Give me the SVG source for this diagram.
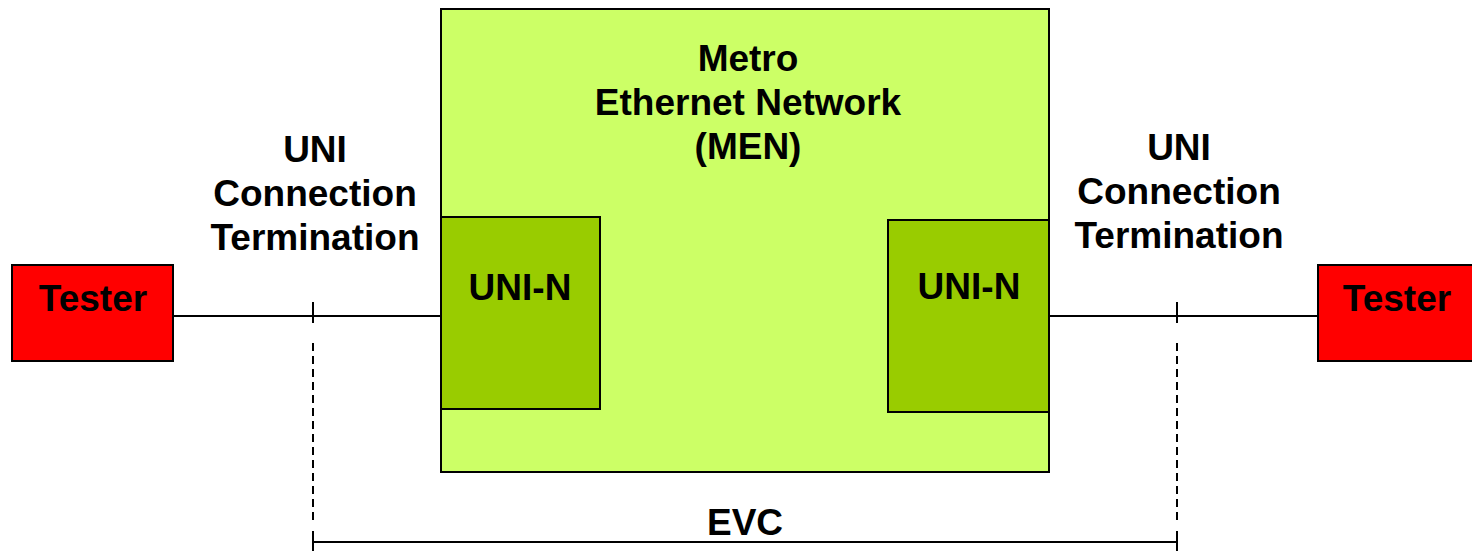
<svg xmlns="http://www.w3.org/2000/svg" width="1472" height="551" viewBox="0 0 1472 551">
<style>
text{font-family:"Liberation Sans",Arial,sans-serif;font-weight:bold;font-size:37px;fill:#000;text-anchor:middle}
.tester{fill:#ff0000;stroke:#000;stroke-width:2}
.men{fill:#ccff66;stroke:#000;stroke-width:2}
.uni{fill:#99cc00;stroke:#000;stroke-width:2}
.ln{stroke:#000;stroke-width:2;fill:none}
.dash{stroke:#000;stroke-width:2;fill:none;stroke-dasharray:8 5}
</style>
<rect width="1472" height="551" fill="#fff"/>
<g id="connectors">
<line class="ln" x1="173" y1="316" x2="441" y2="316"/>
<line class="ln" x1="1049" y1="316" x2="1318" y2="316"/>
<line class="ln" x1="313" y1="302" x2="313" y2="323"/>
<line class="ln" x1="1177" y1="302" x2="1177" y2="323"/>
<line class="dash" x1="313" y1="343" x2="313" y2="520"/>
<line class="dash" x1="1177" y1="343" x2="1177" y2="520"/>
<line class="ln" x1="313" y1="542" x2="1177" y2="542"/>
<line class="ln" x1="313" y1="531" x2="313" y2="551"/>
<line class="ln" x1="1177" y1="531" x2="1177" y2="551"/>
</g>
<g id="men">
<rect class="men" x="441" y="9" width="608" height="463"/>
<text x="748" y="71">Metro</text>
<text x="748" y="115">Ethernet Network</text>
<text x="748" y="159">(MEN)</text>
</g>
<g id="uni-n-left">
<rect class="uni" x="441" y="217" width="159" height="192"/>
<text x="520" y="300">UNI-N</text>
</g>
<g id="uni-n-right">
<rect class="uni" x="888" y="220" width="161" height="192"/>
<text x="969" y="299">UNI-N</text>
</g>
<g id="tester-left">
<rect class="tester" x="12" y="265" width="161" height="96"/>
<text x="93" y="311">Tester</text>
</g>
<g id="tester-right">
<rect class="tester" x="1318" y="265" width="160" height="96"/>
<text x="1397" y="311">Tester</text>
</g>
<g id="label-uni-left">
<text x="315" y="162">UNI</text>
<text x="315" y="206">Connection</text>
<text x="315" y="250">Termination</text>
</g>
<g id="label-uni-right">
<text x="1179" y="160">UNI</text>
<text x="1179" y="204">Connection</text>
<text x="1179" y="248">Termination</text>
</g>
<g id="label-evc">
<text x="745" y="535">EVC</text>
</g>
</svg>
